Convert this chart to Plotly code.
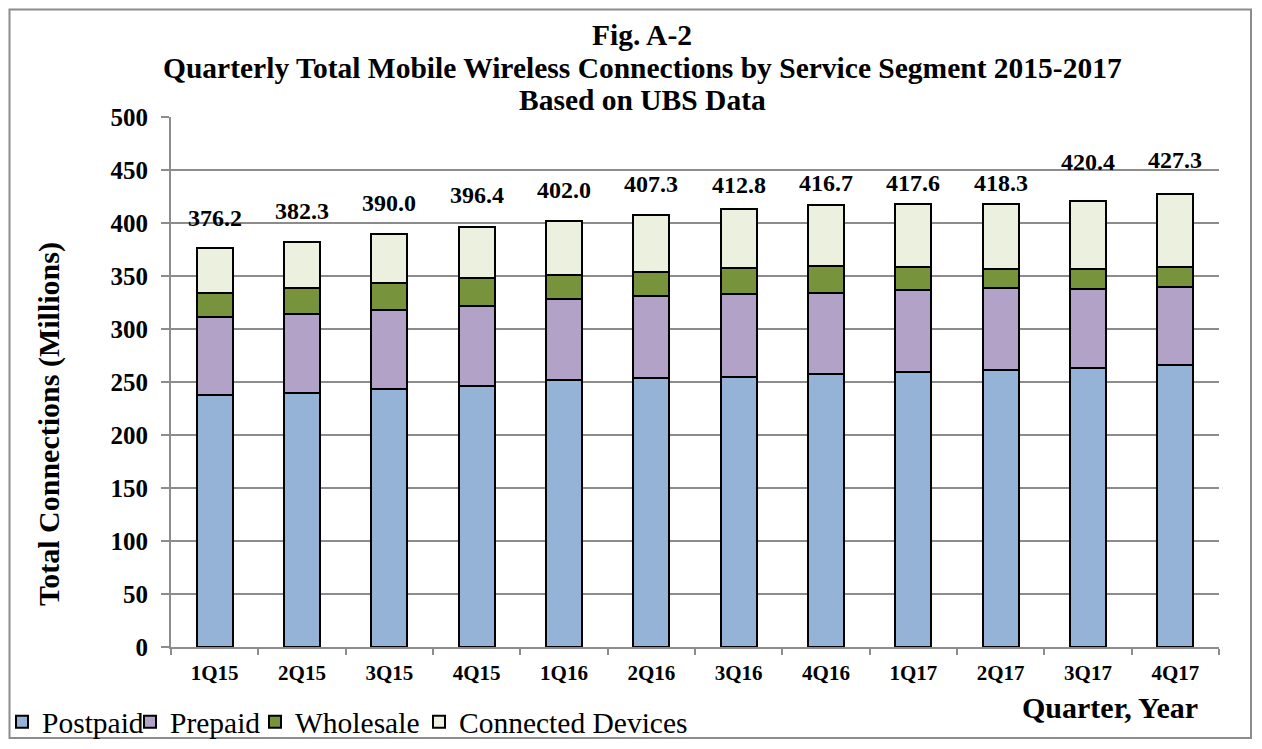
import plotly.graph_objects as go

# Data (millions of connections)
quarters = ["1Q15", "2Q15", "3Q15", "4Q15", "1Q16", "2Q16",
            "3Q16", "4Q16", "1Q17", "2Q17", "3Q17", "4Q17"]
postpaid = [237.7, 240.0, 243.1, 246.5, 251.9, 254.1, 254.7, 257.2, 259.7, 261.3, 263.0, 265.8]
prepaid = [73.9, 74.4, 74.8, 75.2, 76.7, 76.7, 78.3, 77.0, 76.7, 77.0, 74.4, 74.1]
wholesale = [22.6, 24.0, 25.8, 26.1, 22.3, 23.3, 24.2, 25.2, 22.4, 18.0, 18.9, 18.9]
connected = [42.0, 43.9, 46.3, 48.6, 51.1, 53.2, 55.6, 57.3, 58.8, 62.0, 64.1, 68.5]
totals = [376.2, 382.3, 390.0, 396.4, 402.0, 407.3, 412.8, 416.7, 417.6, 418.3, 420.4, 427.3]

# label offsets above each bar (px), as placed in the original
label_shift = [30, 31, 31, 32, 31, 31, 24, 22, 21, 21, 39, 34]

# page is 1262x749 with the browser's 8px body margin around the figure
OFF = 8
FW, FH = 1262 - 2 * OFF, 749 - 2 * OFF
PL, PT = 171, 117          # plot area corner on the page
pw, ph = 1048, 530
L, T = PL - OFF, PT - OFF
R, B = FW - L - pw, FH - T - ph


def px(x):
    return (x - PL) / pw


def py(y):
    return (PT + ph - y) / ph


serif = "Liberation Serif"
segments = [
    ("Postpaid", postpaid, "#95B3D7", 2),
    ("Prepaid", prepaid, "#B3A2C7", 130),
    ("Wholesale", wholesale, "#77933C", 255),
    ("Connected Devices", connected, "#EBF1DE", 419),
]

fig = go.Figure()
legends = {}
for i, (name, vals, col, lx) in enumerate(segments):
    key = "legend" if i == 0 else f"legend{i + 1}"
    fig.add_trace(go.Bar(
        x=quarters, y=vals, name=name, legend=key, showlegend=True,
        marker=dict(color=col, line=dict(color="black", width=2)),
    ))
    legends[key] = dict(orientation="h", x=px(lx), y=py(722), xanchor="left", yanchor="middle",
                        font=dict(family=serif, size=29.5), itemwidth=30,
                        bgcolor="rgba(0,0,0,0)")

for q, t, s in zip(quarters, totals, label_shift):
    fig.add_annotation(x=q, y=t, text=f"<b>{t:.1f}</b>", showarrow=False,
                       yshift=s, font=dict(family=serif, size=24, color="black"))

# titles
for txt, y in [("Fig. A-2", 35),
               ("Quarterly Total Mobile Wireless Connections by Service Segment 2015-2017", 68),
               ("Based on UBS Data", 100)]:
    fig.add_annotation(xref="paper", yref="paper", x=px(642), y=py(y), text=f"<b>{txt}</b>",
                       showarrow=False, xanchor="center", yanchor="middle",
                       font=dict(family=serif, size=29.5, color="black"))

fig.add_annotation(xref="paper", yref="paper", x=px(49), y=py(424),
                   text="<b>Total Connections (Millions)</b>", textangle=-90,
                   showarrow=False, xanchor="center", yanchor="middle",
                   font=dict(family=serif, size=30, color="black"))
fig.add_annotation(xref="paper", yref="paper", x=px(1110), y=py(707),
                   text="<b>Quarter, Year</b>", showarrow=False,
                   xanchor="center", yanchor="middle",
                   font=dict(family=serif, size=30, color="black"))

# outer frame (as close to the page edge as the body margin allows)
fig.add_shape(type="rect", xref="paper", yref="paper",
              x0=px(OFF + 1.5), x1=px(1262 - OFF - 3), y0=py(749 - OFF - 3), y1=py(OFF + 1.5),
              line=dict(color="#8c8c8c", width=2))

fig.update_layout(
    barmode="stack",
    bargap=0.59,
    width=FW, height=FH,
    margin=dict(l=L, r=R, t=T, b=B, autoexpand=False),
    plot_bgcolor="white",
    paper_bgcolor="white",
    font=dict(family=serif, color="black"),
    showlegend=True,
    **legends,
)
fig.update_yaxes(
    range=[0, 500], dtick=50,
    showgrid=True, gridcolor="#8c8c8c", gridwidth=2,
    showline=True, linecolor="#8c8c8c", linewidth=2,
    ticks="outside", ticklen=8, tickcolor="#8c8c8c", tickwidth=2,
    tickfont=dict(family=serif, size=25, weight="bold"),
    ticklabelstandoff=8, zeroline=False,
)
fig.update_xaxes(
    showline=True, linecolor="#8c8c8c", linewidth=2,
    ticks="outside", tickson="boundaries", ticklen=6, tickcolor="#8c8c8c", tickwidth=2,
    tickfont=dict(family=serif, size=21, weight="bold"),
    ticklabelstandoff=6,
)

fig.write_html("out.html", config={"displayModeBar": False})
